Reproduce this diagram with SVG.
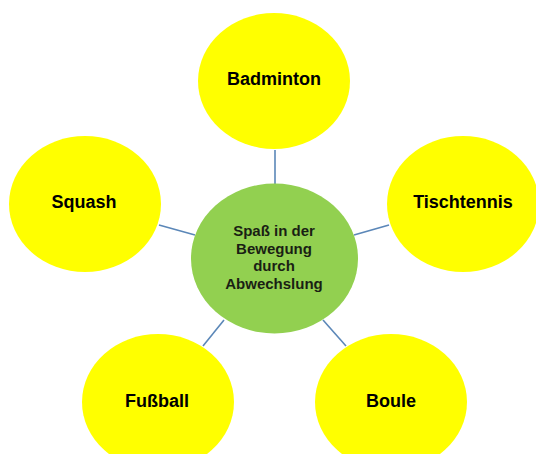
<svg xmlns="http://www.w3.org/2000/svg" width="536" height="454" viewBox="0 0 536 454">
<style>
.leaf{fill:#ffff00;}
.hub{fill:#92d050;}
.conn{stroke:#5b87b8;stroke-width:1.6;fill:none;}
.lbl{font-family:"Liberation Sans",Arial,sans-serif;font-weight:bold;font-size:18px;fill:#000;text-anchor:middle;}
.hubt{font-family:"Liberation Sans",Arial,sans-serif;font-weight:bold;font-size:15px;fill:#1a1f14;text-anchor:middle;}
</style>
<rect width="536" height="454" fill="#ffffff"/>
<g id="connectors">
<line class="conn" x1="275" y1="150" x2="275" y2="184"/>
<line class="conn" x1="159" y1="225" x2="195" y2="235"/>
<line class="conn" x1="389" y1="225" x2="354" y2="235"/>
<line class="conn" x1="224" y1="320" x2="203" y2="346"/>
<line class="conn" x1="323" y1="320" x2="346" y2="346"/>
</g>
<g id="hub">
<ellipse class="hub" cx="274.5" cy="258.5" rx="83.5" ry="75"/>
<text class="hubt" x="274" y="236">Spaß in der</text>
<text class="hubt" x="274" y="253.5">Bewegung</text>
<text class="hubt" x="274" y="271">durch</text>
<text class="hubt" x="274" y="288.5">Abwechslung</text>
</g>
<g id="badminton">
<ellipse class="leaf" cx="274" cy="81" rx="76" ry="68"/>
<text class="lbl" x="274" y="85">Badminton</text>
</g>
<g id="squash">
<ellipse class="leaf" cx="85" cy="204" rx="76" ry="68"/>
<text class="lbl" x="84" y="208">Squash</text>
</g>
<g id="tischtennis">
<ellipse class="leaf" cx="463" cy="204" rx="76" ry="68"/>
<text class="lbl" x="463" y="208">Tischtennis</text>
</g>
<g id="fussball">
<ellipse class="leaf" cx="158" cy="402" rx="76" ry="68"/>
<text class="lbl" x="157" y="407">Fußball</text>
</g>
<g id="boule">
<ellipse class="leaf" cx="391" cy="402" rx="76" ry="68"/>
<text class="lbl" x="391" y="407">Boule</text>
</g>
</svg>
